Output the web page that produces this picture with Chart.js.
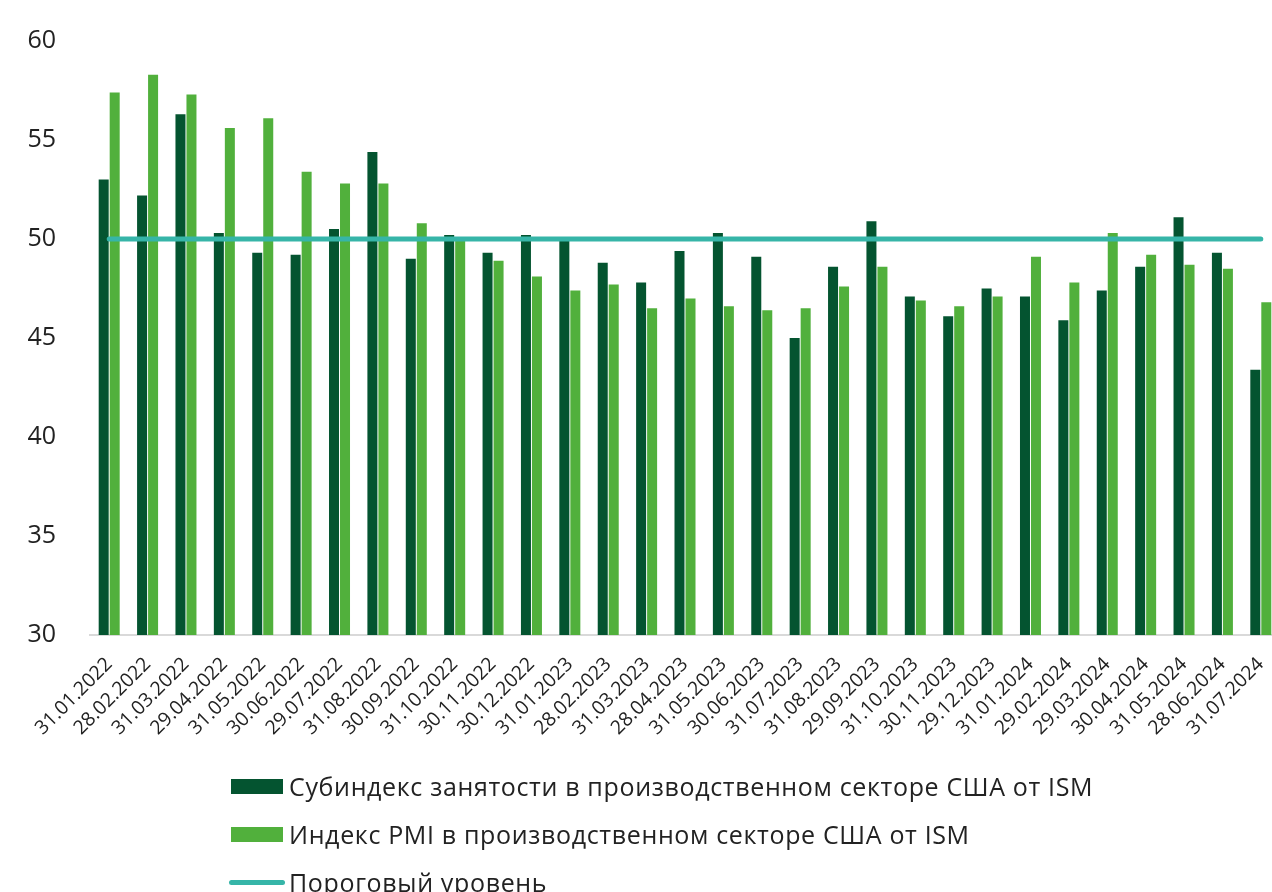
<!DOCTYPE html>
<html lang="ru">
<head>
<meta charset="utf-8">
<title>ISM: занятость и PMI в производственном секторе США</title>
<script src="https://cdn.jsdelivr.net/npm/chart.js@4.4.1/dist/chart.umd.min.js"></script>
<style>
  html, body { margin: 0; padding: 0; background: #ffffff; overflow: hidden; }
  body { width: 1272px; height: 892px; position: relative; font-family: "Open Sans", "Noto Sans", sans-serif; }
  #wrap { position: absolute; left: 0; top: 0; width: 1280px; height: 760px; }
  .legend { position: absolute; left: 0; top: 0; width: 1272px; height: 892px; pointer-events: none; }
  .item { position: absolute; left: 229px; height: 30px; display: flex; align-items: center; color: #222222; font-size: 25px; letter-spacing: 0.65px; white-space: nowrap; }
  .box { width: 52px; height: 15px; margin-left: 2px; margin-right: 6px; }
  .ln { width: 56px; height: 5px; border-radius: 3px; margin-right: 4px; }
</style>
</head>
<body>
<div id="wrap"><canvas id="chart"></canvas></div>

<div class="legend">
  <div class="item" style="top:771px"><span class="box" style="background:#045430"></span><span>Субиндекс занятости в производственном секторе США от ISM</span></div>
  <div class="item" style="top:819px"><span class="box" style="background:#51b03c"></span><span>Индекс PMI в производственном секторе США от ISM</span></div>
  <div class="item" style="top:867px"><span class="ln" style="background:#36b5a8"></span><span>Пороговый уровень</span></div>
</div>

<script>
// Month-end dates
const categories = [
  "31.01.2022", "28.02.2022", "31.03.2022", "29.04.2022", "31.05.2022", "30.06.2022",
  "29.07.2022", "31.08.2022", "30.09.2022", "31.10.2022", "30.11.2022", "30.12.2022",
  "31.01.2023", "28.02.2023", "31.03.2023", "28.04.2023", "31.05.2023", "30.06.2023",
  "31.07.2023", "31.08.2023", "29.09.2023", "31.10.2023", "30.11.2023", "29.12.2023",
  "31.01.2024", "29.02.2024", "29.03.2024", "30.04.2024", "31.05.2024", "28.06.2024",
  "31.07.2024"
];

// ISM manufacturing employment sub-index
const employmentIndex = [
  53.0, 52.2, 56.3, 50.3, 49.3, 49.2,
  50.5, 54.4, 49.0, 50.2, 49.3, 50.2,
  49.9, 48.8, 47.8, 49.4, 50.3, 49.1,
  45.0, 48.6, 50.9, 47.1, 46.1, 47.5,
  47.1, 45.9, 47.4, 48.6, 51.1, 49.3,
  43.4
];

// ISM manufacturing PMI
const pmiIndex = [
  57.4, 58.3, 57.3, 55.6, 56.1, 53.4,
  52.8, 52.8, 50.8, 50.0, 48.9, 48.1,
  47.4, 47.7, 46.5, 47.0, 46.6, 46.4,
  46.5, 47.6, 48.6, 46.9, 46.6, 47.1,
  49.1, 47.8, 50.3, 49.2, 48.7, 48.5,
  46.8
];

// Expansion / contraction threshold
const thresholdLevel = 50;
const thresholdLine = categories.map(() => thresholdLevel);

// Y axis range
const yMin = 30;
const yMax = 60;
const yStep = 5;

const TEXT = "#222222";
const FONT = "'Open Sans', 'Noto Sans', sans-serif";

new Chart(document.getElementById("chart"), {
  type: "bar",
  data: {
    labels: categories,
    datasets: [
      {
        type: "line",
        label: "Пороговый уровень",
        data: thresholdLine,
        borderColor: "#36b5a8",
        borderWidth: 5,
        borderCapStyle: "round",
        pointRadius: 0,
        fill: false,
        order: 0
      },
      {
        label: "Субиндекс занятости в производственном секторе США от ISM",
        data: employmentIndex,
        backgroundColor: "#045430",
        categoryPercentage: 0.573,
        barPercentage: 0.91,
        order: 1
      },
      {
        label: "Индекс PMI в производственном секторе США от ISM",
        data: pmiIndex,
        backgroundColor: "#51b03c",
        categoryPercentage: 0.573,
        barPercentage: 0.91,
        order: 1
      }
    ]
  },
  options: {
    responsive: true,
    maintainAspectRatio: false,
    animation: false,
    layout: { padding: { top: 40, right: 0, bottom: 0, left: 0 } },
    plugins: {
      legend: { display: false },
      tooltip: { enabled: false }
    },
    scales: {
      x: {
        grid: { display: false },
        border: { display: true, color: "#d9d9d9", width: 2 },
        ticks: {
          color: TEXT,
          font: { family: FONT, size: 19.5 },
          minRotation: 45,
          maxRotation: 45,
          autoSkip: false,
          padding: 10
        },
        afterFit: (scale) => {
          scale.height = 125;
          // rotated labels end at their ticks, so no side overhang is reserved
          scale.paddingRight = 0;
          scale.paddingLeft = 0;
        }
      },
      y: {
        min: yMin,
        max: yMax,
        grid: { display: false },
        border: { display: false },
        ticks: {
          stepSize: yStep,
          color: TEXT,
          font: { family: FONT, size: 25 },
          padding: 26
        },
        afterFit: (scale) => { scale.width = 90; }
      }
    }
  }
});
</script>
</body>
</html>
